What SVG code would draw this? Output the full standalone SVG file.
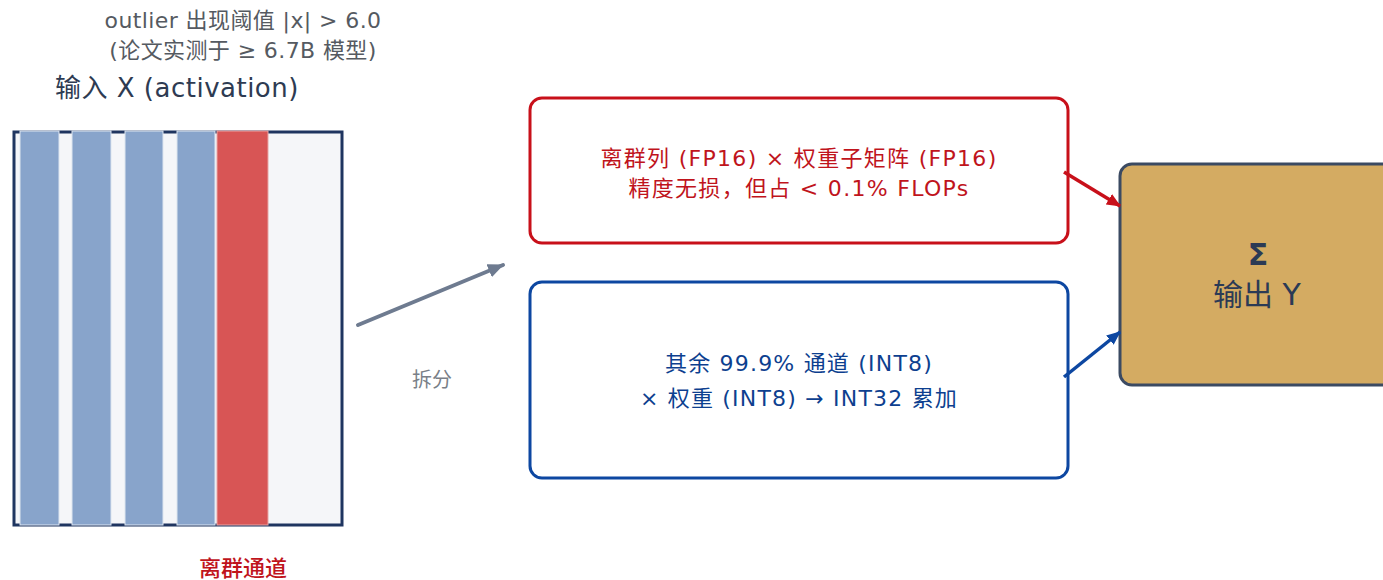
<svg xmlns="http://www.w3.org/2000/svg" width="1383" height="580" viewBox="0 0 1383 580">
<defs>
<style>
text{font-family:"DejaVu Sans","Noto Sans CJK SC",sans-serif;}
.note{font-size:22px;fill:#555a61;text-anchor:middle;letter-spacing:0.4px;}
.title{font-size:26px;fill:#2e3b52;letter-spacing:0.5px;}
.stripe{fill:#88a4cb;stroke:#dde5f0;stroke-width:1;}
.red-t{font-size:22px;fill:#c0141c;text-anchor:middle;letter-spacing:1.3px;}
.blue-t{font-size:22px;fill:#0d3f8f;text-anchor:middle;letter-spacing:1.2px;}
.out-t{font-size:30px;fill:#2b3a55;text-anchor:middle;}
.box{stroke-width:3;}
</style>
<marker id="ah-red" markerWidth="14" markerHeight="12" refX="13" refY="6" orient="auto" markerUnits="userSpaceOnUse"><path d="M0,0 L14,6 L0,12 Z" fill="#c8101a"/></marker>
<marker id="ah-blue" markerWidth="14" markerHeight="12" refX="13" refY="6" orient="auto" markerUnits="userSpaceOnUse"><path d="M0,0 L14,6 L0,12 Z" fill="#0d47a1"/></marker>
<marker id="ah-g" markerWidth="16" markerHeight="14" refX="15" refY="7" orient="auto" markerUnits="userSpaceOnUse"><path d="M0,0 L16,7 L0,14 Z" fill="#6e7b90"/></marker>
</defs>
<rect width="1383" height="580" fill="#ffffff"/>

<g id="labels-top">
<text class="note" x="243" y="28">outlier 出现阈值 |x| &gt; 6.0</text>
<text class="note" x="243" y="58">(论文实测于 ≥ 6.7B 模型)</text>
<text class="title" x="55" y="97">输入 X (activation)</text>
</g>

<g id="input-matrix">
<rect x="14" y="132" width="328" height="393" fill="#f5f6f9" stroke="#1f3560" stroke-width="3"/>
<rect class="stripe" x="20" y="131" width="39" height="394"/>
<rect class="stripe" x="72" y="131" width="39" height="394"/>
<rect class="stripe" x="125" y="131" width="38" height="394"/>
<rect class="stripe" x="177" y="131" width="38" height="394"/>
<rect x="217" y="131" width="51" height="394" fill="#d85555" stroke="#e8a5a5" stroke-width="1"/>
</g>

<g id="outlier-label">
<text x="243" y="576" font-size="22" fill="#c0141c" text-anchor="middle" font-weight="500">离群通道</text>
</g>

<g id="red-box">
<rect class="box" x="530" y="98" width="538" height="145" rx="12" fill="#ffffff" stroke="#c8101a"/>
<text class="red-t" x="799" y="166">离群列 (FP16) × 权重子矩阵 (FP16)</text>
<text class="red-t" x="799" y="196">精度无损，但占 &lt; 0.1% FLOPs</text>
</g>

<g id="blue-box">
<rect class="box" x="530" y="282" width="538" height="196" rx="12" fill="#ffffff" stroke="#0d47a1"/>
<text class="blue-t" x="799" y="371">其余 99.9% 通道 (INT8)</text>
<text class="blue-t" x="799" y="406">× 权重 (INT8) → INT32 累加</text>
</g>

<g id="output-box">
<rect x="1120" y="164" width="280" height="221" rx="12" fill="#d4ab62" stroke="#3b4a62" stroke-width="3"/>
<text class="out-t" x="1258" y="265" font-weight="bold">Σ</text>
<text class="out-t" x="1257" y="305">输出 Y</text>
</g>

<g id="connectors">
<line x1="358" y1="325" x2="503" y2="265" stroke="#6e7b90" stroke-width="4" stroke-linecap="round" marker-end="url(#ah-g)"/>
<text x="432" y="387" font-size="20" fill="#7a7f88" text-anchor="middle">拆分</text>
<line x1="1064" y1="172" x2="1120" y2="206" stroke="#c8101a" stroke-width="3.5" marker-end="url(#ah-red)"/>
<line x1="1064" y1="377" x2="1120" y2="332" stroke="#0d47a1" stroke-width="3.5" marker-end="url(#ah-blue)"/>
</g>
</svg>
